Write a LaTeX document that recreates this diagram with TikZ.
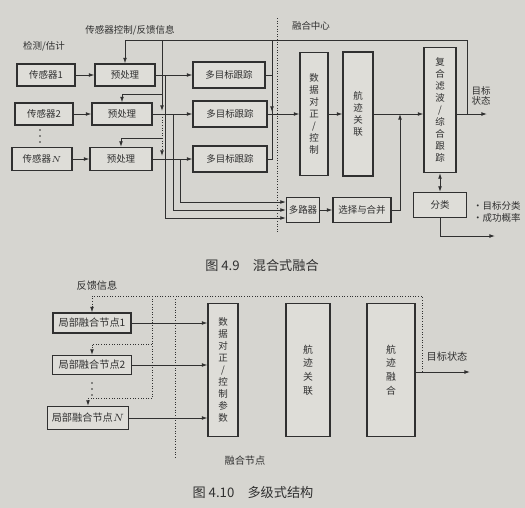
\documentclass[tikz,border=0pt]{standalone}
\usepackage{fontspec}
\setmainfont{Noto Sans CJK SC}
\usetikzlibrary{arrows.meta}
\definecolor{paper}{RGB}{214,213,208}
\definecolor{boxc}{RGB}{222,221,216}
\definecolor{ink}{RGB}{48,48,48}
\tikzset{
	blk/.style={draw=ink, fill=boxc, line width=.7pt, inner sep=1pt, text=ink},
	vblk/.style={blk, align=center, font=\fontsize{5.4}{6.8}\selectfont},
	arr/.style={draw=ink, line width=.5pt, -{Latex[length=3.2pt,width=2.2pt]}},
	dblarr/.style={draw=ink, line width=.5pt, {Latex[length=3.2pt,width=2.2pt]}-{Latex[length=3.2pt,width=2.2pt]}},
	ln/.style={draw=ink, line width=.5pt},
	fbln/.style={ln, densely dotted},
	fbarr/.style={arr, densely dotted},
	lbl/.style={text=ink},
}
\begin{document}
\begin{tikzpicture}[x=0.02cm, y=-0.02cm, font=\fontsize{5.4}{6.5}\selectfont]
	\fill[paper] (0,0) rectangle (525,508);
	\useasboundingbox (0,0) rectangle (525,508);

	\node[blk, minimum width=1.16cm, minimum height=.44cm] (S1) at (46,75) {传感器1};
	\node[blk, minimum width=1.16cm, minimum height=.44cm] (S2) at (44,114) {传感器2};
	\node[blk, minimum width=1.2cm, minimum height=.46cm] (SN) at (42,159) {传感器$N$};
	\node[blk, minimum width=1.2cm, minimum height=.44cm] (P1) at (125,75) {预处理};
	\node[blk, minimum width=1.2cm, minimum height=.44cm] (P2) at (122,114) {预处理};
	\node[blk, minimum width=1.24cm, minimum height=.46cm] (PN) at (121,159) {预处理};
	\node[blk, minimum width=1.44cm, minimum height=.52cm] (T1) at (229,75) {多目标跟踪};
	\node[blk, minimum width=1.48cm, minimum height=.52cm] (T2) at (230,114) {多目标跟踪};
	\node[blk, minimum width=1.48cm, minimum height=.52cm] (T3) at (230,159) {多目标跟踪};
	\node[blk, minimum width=.66cm, minimum height=.5cm] (MUX) at (303,210) {多路器};
	\node[blk, minimum width=1.16cm, minimum height=.5cm] (SEL) at (362,210) {选择与合并};
	\node[vblk, minimum width=.56cm, minimum height=2.46cm] (ALN) at (314,114) {数\\据\\对\\正\\/\\控\\制};
	\node[vblk, minimum width=.6cm, minimum height=2.48cm] (ASC) at (358,114) {航\\迹\\关\\联};
	\node[vblk, minimum width=.64cm, minimum height=2.5cm] (CMB) at (440,110) {复\\合\\滤\\波\\/\\综\\合\\跟\\踪};
	\node[blk, minimum width=1.06cm, minimum height=.5cm] (CLS) at (440,205) {分类};
	\foreach \k in {0,1,2}
		\fill[ink] (40,130+6*\k) circle (.45pt);

	\node[lbl] (ctl) at (130,30) {传感器控制/反馈信息};
	\node[lbl, anchor=west] (det) at (17,46) {检测/估计};
	\node[lbl] (ctr) at (311,26) {融合中心};
	\node[lbl, align=center, font=\fontsize{5.4}{5.9}\selectfont] (st1) at (481,96) {目标\\状态};
	\node[lbl, anchor=west, align=left, font=\fontsize{5.4}{6.8}\selectfont] (cnote) at (467,212) {\textbullet 目标分类\\\textbullet 成功概率};

	\coordinate (b1) at (165,75);
	\coordinate (b2) at (173,114);
	\coordinate (b3) at (180,159);
	\coordinate (jA) at (272,114);
	\coordinate (jB) at (400,114);
	\coordinate (out) at (467,114);
	\coordinate (tgt) at (487,114);
	\coordinate (fbR) at (467,40);
	\coordinate (fbL) at (162,40);
	\coordinate (cout) at (495,236);

	\draw[fbln] (277,18) -- (277,234);

	\draw[arr] (S1) -- (P1);
	\draw[arr] (S2) -- (P2);
	\draw[arr] (SN) -- (PN);
	\draw[arr] (P1) -- (T1);
	\draw[arr] (P2) -- (T2);
	\draw[arr] (PN) -- (T3);
	\draw[arr] (b1) |- ([yshift=-.16cm]MUX.west);
	\draw[arr] (b2) |- (MUX.west);
	\draw[arr] (b3) |- ([yshift=.16cm]MUX.west);
	\draw[arr] (MUX) -- (SEL);
	\draw[arr] (SEL.east) -| (jB);
	\draw[ln] (T1.east) -| (jA);
	\draw[ln] (T3.east) -| (jA);
	\draw[arr] (fbL -| jA) -- ([yshift=.04cm]jA);
	\draw[arr] (T2) -- (ALN);
	\draw[arr] (ALN) -- (ASC);
	\draw[arr] (ASC.east) -- (ASC.east -| CMB.west);
	\draw[arr] (CMB.east |- tgt) -- (tgt);
	\draw[arr] (out) -- (fbR) -- (P1.north |- fbR) -- (P1.north);
	\draw[arr] (fbL) -- (162,111);
	\draw[fbarr] (162,117) -- (162,156);
	\draw[arr] (162,94) -| (P2.north);
	\draw[arr] (162,138) -| (PN.north);
	\draw[dblarr] (CMB) -- (CLS);
	\draw[arr] (CLS.south) |- (cout);

	\node[lbl, font=\fontsize{7.5}{8}\selectfont] (cap1) at (262,265) {图 4.9\quad 混合式融合};

	\node[blk, minimum width=1.56cm, minimum height=.4cm, font=\fontsize{5.8}{6.5}\selectfont] (L1) at (92,323) {局部融合节点1};
	\node[blk, minimum width=1.58cm, minimum height=.38cm, font=\fontsize{5.8}{6.5}\selectfont] (L2) at (92,365) {局部融合节点2};
	\node[blk, minimum width=1.62cm, minimum height=.46cm, font=\fontsize{5.8}{6.5}\selectfont] (LN) at (88,418) {局部融合节点$N$};
	\node[vblk, minimum width=.6cm, minimum height=2.66cm] (DAP) at (223,370) {数\\据\\对\\正\\/\\控\\制\\参\\数};
	\node[vblk, font=\fontsize{5.6}{7.8}\selectfont, minimum width=.88cm, minimum height=2.66cm] (ASC2) at (308,370) {航\\迹\\关\\联};
	\node[vblk, font=\fontsize{5.6}{7.8}\selectfont, minimum width=.96cm, minimum height=2.66cm] (FUS) at (391,370) {航\\迹\\融\\合};
	\foreach \k in {0,1,2}
		\fill[ink] (92,383+6*\k) circle (.45pt);

	\node[lbl, font=\fontsize{5.8}{6.5}\selectfont] (fbi) at (97,286) {反馈信息};
	\node[lbl, font=\fontsize{5.8}{6.5}\selectfont] (st2) at (447,357) {目标状态};
	\node[lbl, font=\fontsize{5.8}{6.5}\selectfont] (fnd) at (245,461) {融合节点};

	\coordinate (tgt2) at (470,372);
	\coordinate (fb2) at (422,372);
	\coordinate (fb2t) at (422,296);

	\draw[arr] (L1) -- (L1 -| DAP.west);
	\draw[arr] (L2) -- (L2 -| DAP.west);
	\draw[arr] (LN) -- (LN -| DAP.west);
	\draw[arr] (FUS.east |- tgt2) -- (tgt2);
	\draw[fbarr] (fb2) -- (fb2t) -| (L1.north);
	\draw[fbln] (152,296) -- (152,398);
	\draw[fbarr] (152,344) -| (L2.north);
	\draw[fbarr] (152,398) -| (LN.north);
	\draw[fbln] (175,299) -- (175,458);

	\node[lbl, font=\fontsize{7.5}{8}\selectfont] (cap2) at (253,492) {图 4.10\quad 多级式结构};
\end{tikzpicture}
\end{document}
